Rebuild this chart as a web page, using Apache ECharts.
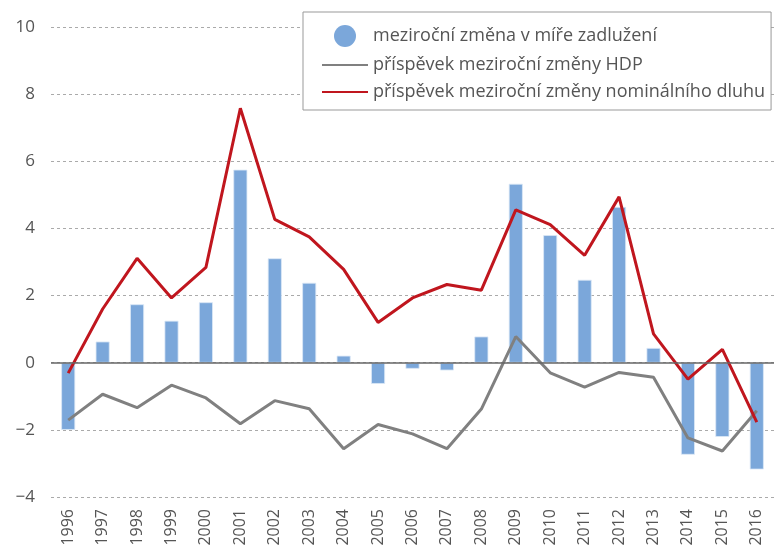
<!DOCTYPE html>
<html>
<head>
<meta charset="utf-8">
<script src="https://cdn.jsdelivr.net/npm/echarts@6/dist/echarts.min.js"></script>
<style>
html, body { margin: 0; padding: 0; background: #fff; }
#chart { width: 774px; height: 550px; }
</style>
</head>
<body>
<div id="chart"></div>
<script>
var years = ['1996', '1997', '1998', '1999', '2000', '2001', '2002', '2003', '2004', '2005', '2006',
  '2007', '2008', '2009', '2010', '2011', '2012', '2013', '2014', '2015', '2016']
// meziroční změna v míře zadlužení
var zmenaZadluzeni = [-2.0, 0.63, 1.74, 1.25, 1.8, 5.75, 3.11, 2.38, 0.21, -0.63, -0.18,
  -0.23, 0.78, 5.33, 3.8, 2.47, 4.64, 0.44, -2.74, -2.21, -3.18]
// příspěvek meziroční změny HDP
var prispevekHdp = [-1.71, -0.94, -1.34, -0.67, -1.05, -1.82, -1.13, -1.37, -2.56, -1.84, -2.12,
  -2.56, -1.38, 0.78, -0.3, -0.73, -0.29, -0.43, -2.24, -2.63, -1.43]
// příspěvek meziroční změny nominálního dluhu
var prispevekDluhu = [-0.31, 1.6, 3.11, 1.93, 2.84, 7.58, 4.27, 3.75, 2.78, 1.2, 1.93,
  2.33, 2.16, 4.55, 4.11, 3.2, 4.94, 0.86, -0.49, 0.4, -1.77]
var yTicks = { min: -4, max: 10, interval: 2 }

var font = 'Open Sans'
var textColor = '#555'

var chart = echarts.init(document.getElementById('chart'))
var option = {
  animation: false,
  textStyle: { fontFamily: font },
  grid: {
    left: 51,
    top: 27,
    width: 726,
    height: 470
  },
  legend: {
    orient: 'vertical',
    left: 303,
    top: 12,
    padding: [13, 6, 9, 18],
    itemGap: 9,
    itemWidth: 46,
    itemHeight: 22,
    borderColor: '#999',
    borderWidth: 1,
    backgroundColor: '#fff',
    textStyle: { color: textColor, fontSize: 18, fontFamily: font },
    data: [
      { name: 'meziroční změna v míře zadlužení', icon: 'circle', itemStyle: { borderWidth: 0 } },
      { name: 'příspěvek meziroční změny HDP', itemStyle: { opacity: 0 } },
      { name: 'příspěvek meziroční změny nominálního dluhu', itemStyle: { opacity: 0 } }
    ]
  },
  xAxis: {
    type: 'category',
    data: years,
    axisLine: { show: false },
    axisTick: { show: false },
    axisLabel: {
      rotate: 90,
      margin: 12,
      color: textColor,
      fontSize: 16,
      fontFamily: font
    }
  },
  yAxis: {
    type: 'value',
    min: yTicks.min,
    max: yTicks.max,
    interval: yTicks.interval,
    axisLine: { show: false },
    axisTick: { show: false },
    axisLabel: {
      margin: 16,
      color: textColor,
      fontSize: 17,
      fontFamily: font,
      formatter: function (v) { return v < 0 ? '\u2212' + Math.abs(v) : String(v) }
    },
    splitLine: {
      lineStyle: { color: '#aaa', type: [3, 3], width: 1 }
    }
  },
  series: [
    {
      name: 'meziroční změna v míře zadlužení',
      type: 'bar',
      barWidth: 14,
      itemStyle: { color: '#7BA7DA', borderColor: '#dce8f6', borderWidth: 0.8 },
      data: zmenaZadluzeni,
      markLine: {
        silent: true,
        symbol: 'none',
        label: { show: false },
        lineStyle: { color: '#666', type: 'solid', width: 1.5 },
        data: [{ yAxis: 0 }]
      }
    },
    {
      name: 'příspěvek meziroční změny HDP',
      type: 'line',
      symbol: 'none',
      lineStyle: { color: '#808080', width: 3 },
      itemStyle: { color: '#808080' },
      data: prispevekHdp
    },
    {
      name: 'příspěvek meziroční změny nominálního dluhu',
      type: 'line',
      symbol: 'none',
      lineStyle: { color: '#C0161E', width: 3 },
      itemStyle: { color: '#C0161E' },
      data: prispevekDluhu
    }
  ]
}
chart.setOption(option)
</script>
</body>
</html>
